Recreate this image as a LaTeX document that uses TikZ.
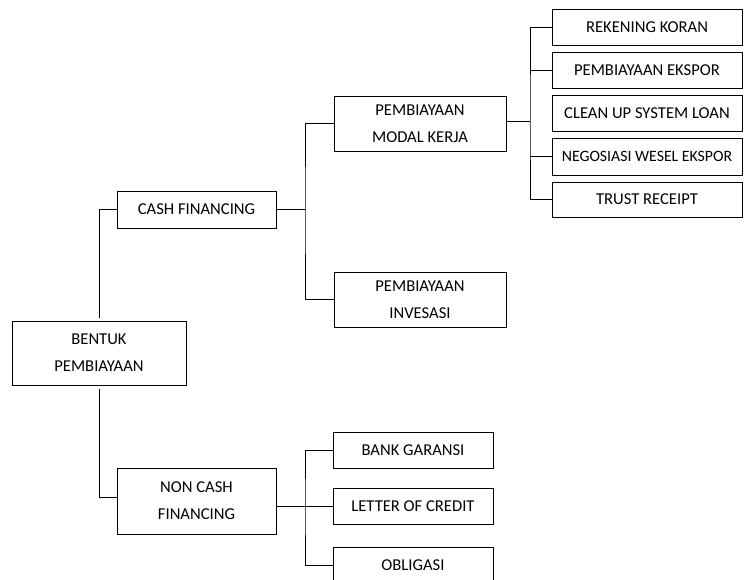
\documentclass[tikz,border=0pt]{standalone}
\usepackage{fontspec}
\setmainfont{Carlito}
\begin{document}
\begin{tikzpicture}[x=1pt,y=-1pt,
  box/.style={draw,line width=1pt,inner sep=0pt,align=center,
    font=\fontsize{16.6}{27}\selectfont},
  link/.style={line width=1pt}]
\useasboundingbox (0,0) rectangle (744,579);
% root
\node[box,minimum width=174pt,minimum height=64pt] (bentuk) at (99,353) {BENTUK\\PEMBIAYAAN};
% first level
\node[box,minimum width=159pt,minimum height=37pt] (cash) at (196.5,209.5) {CASH FINANCING};
\node[box,minimum width=159pt,minimum height=66pt] (noncash) at (196.5,501) {NON CASH\\FINANCING};
% cash financing branch
\node[box,minimum width=172pt,minimum height=55pt] (modal) at (420,123.5) {PEMBIAYAAN\\MODAL KERJA};
\node[box,minimum width=172pt,minimum height=55pt] (invest) at (420,299.5) {PEMBIAYAAN\\INVESASI};
% working capital products
\node[box,minimum width=190pt,minimum height=36pt] (rek) at (647,27) {REKENING KORAN};
\node[box,minimum width=190pt,minimum height=36pt] (eks) at (647,70) {PEMBIAYAAN EKSPOR};
\node[box,minimum width=190pt,minimum height=36pt] (clean) at (647,113) {CLEAN UP SYSTEM LOAN};
\node[box,minimum width=190pt,minimum height=37pt,font=\fontsize{15.8}{20}\selectfont] (nego) at (647,156.5) {NEGOSIASI WESEL EKSPOR};
\node[box,minimum width=190pt,minimum height=35pt] (trust) at (647,199.5) {TRUST RECEIPT};
% non cash branch
\node[box,minimum width=160pt,minimum height=36pt] (bank) at (413,450) {BANK GARANSI};
\node[box,minimum width=160pt,minimum height=36pt] (loc) at (413,506) {LETTER OF CREDIT};
\node[box,minimum width=160pt,minimum height=36pt] (oblig) at (413,565) {OBLIGASI};
% junctions
\coordinate (j1) at (305,209.5);
\coordinate (j2) at (530,121);
\coordinate (j3) at (305,506);
% root to first level
\draw[link] (cash.west) -| ([yshift=3pt]bentuk.north);
\draw[link] ([yshift=4pt]noncash.west) -| ([yshift=-3pt]bentuk.south);
% cash financing to its children
\draw[link] (cash.east) -- (j1);
\draw[link] (modal.west) -| (j1) |- (invest.west);
% working capital to products
\draw[link] (modal.east |- j2) -- (j2);
\draw[link] (rek.west) -| (j2) |- (trust.west);
\draw[link] (eks.west) -- (eks.west -| j2);
\draw[link] (nego.west) -- (nego.west -| j2);
% non cash to its children
\draw[link] (noncash.east |- loc.west) -- (loc.west);
\draw[link] (bank.west) -| (j3) |- (oblig.west);
\end{tikzpicture}
\end{document}
